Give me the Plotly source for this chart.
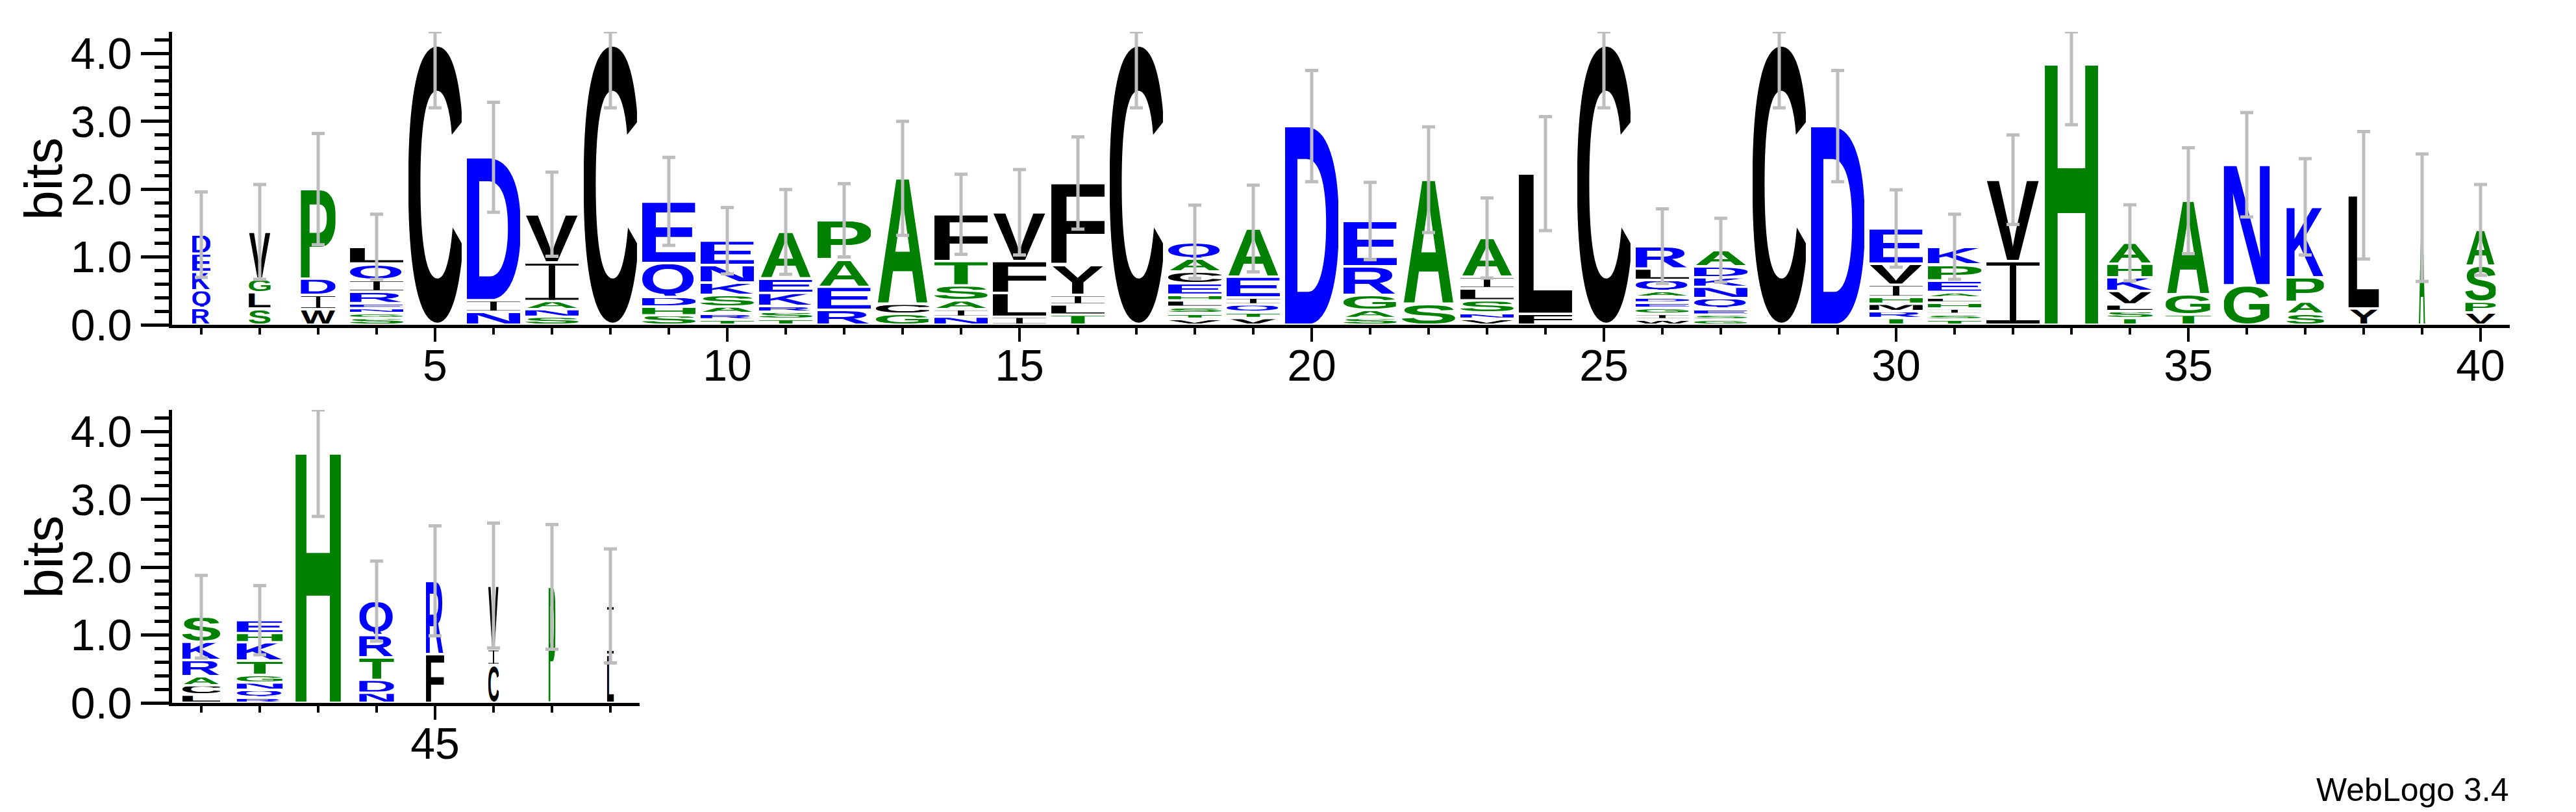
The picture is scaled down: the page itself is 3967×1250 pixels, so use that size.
import base64
import plotly.graph_objects as go

POSITIONS = list(range(1, 49))
# letters of each stack, bottom -> top
LETTERS = [
    "RQKED", "SLGV", "WIDP", "SGNERIQL", "C", "NID", "SNAIV", "C",
    "SHDQE", "TRASKNE", "TSRKEA", "REAP", "GCA", "NIASTF", "ILFV", "TLIYF",
    "C", "VTSLHECAQ", "VTQIEA", "D", "SAGRE", "SA", "VNSLIA", "FL",
    "C", "WIGEDAQLR", "GSEQNKDA", "C", "D", "TRMHIVE", "TSIHLAEPK", "IV",
    "H", "TSLVKHA", "TGA", "GN", "SAPK", "YL", "A", "VPSA",
    "LCARKS", "RQNGTKHE", "H", "NDTRQ", "FR", "CIV", "P", "LI",
]
# letter heights in bits, bottom -> top
HEIGHTS = [
    [0.25, 0.26, 0.27, 0.27, 0.28], [0.24, 0.24, 0.20, 0.69], [0.23, 0.21, 0.24, 1.32],
    [0.10, 0.07, 0.075, 0.075, 0.17, 0.17, 0.245, 0.245], [4.13], [0.19, 0.17, 2.11],
    [0.12, 0.11, 0.12, 0.57, 0.71], [4.13],
    [0.14, 0.13, 0.14, 0.50, 0.91], [0.08, 0.09, 0.10, 0.17, 0.18, 0.26, 0.36],
    [0.09, 0.10, 0.09, 0.19, 0.21, 0.69], [0.22, 0.34, 0.41, 0.57], [0.16, 0.15, 1.85],
    [0.12, 0.11, 0.13, 0.22, 0.36, 0.69], [0.12, 0.35, 0.47, 0.72], [0.15, 0.15, 0.14, 0.45, 1.20],
    [4.13], [0.09, 0.08, 0.095, 0.095, 0.085, 0.17, 0.17, 0.19, 0.25],
    [0.10, 0.09, 0.11, 0.10, 0.31, 0.71], [2.93], [0.10, 0.12, 0.22, 0.42, 0.67],
    [0.31, 1.83], [0.09, 0.09, 0.18, 0.18, 0.17, 0.57], [0.16, 2.07],
    [4.13], [0.08, 0.08, 0.09, 0.08, 0.08, 0.09, 0.16, 0.17, 0.33],
    [0.08, 0.07, 0.09, 0.15, 0.17, 0.14, 0.16, 0.24], [4.13], [2.93],
    [0.10, 0.10, 0.11, 0.10, 0.18, 0.31, 0.52],
    [0.08, 0.08, 0.08, 0.09, 0.075, 0.08, 0.17, 0.235, 0.26], [0.94, 1.20],
    [3.84], [0.10, 0.10, 0.10, 0.20, 0.20, 0.20, 0.31], [0.15, 0.30, 1.38], [0.58, 1.78],
    [0.16, 0.18, 0.36, 1.04], [0.24, 1.67], [1.58], [0.18, 0.16, 0.53, 0.53],
    [0.12, 0.14, 0.13, 0.24, 0.27, 0.37], [0.08, 0.11, 0.11, 0.11, 0.21, 0.275, 0.135, 0.19],
    [3.68], [0.15, 0.19, 0.33, 0.33, 0.50], [0.72, 1.08], [0.56, 0.23, 0.94], [1.71], [0.71, 0.72],
]
# error bar half-lengths (bits)
ERRORS = [
    0.63, 0.70, 0.82, 0.48, 0.93, 0.81, 0.62, 0.93,
    0.65, 0.49, 0.625, 0.54, 0.84, 0.59, 0.63, 0.68,
    0.93, 0.54, 0.64, 0.82, 0.57, 0.78, 0.59, 0.84,
    0.93, 0.55, 0.47, 0.93, 0.82, 0.57, 0.48, 0.66,
    0.89, 0.56, 0.78, 0.77, 0.71, 0.94, 0.94, 0.67,
    0.61, 0.51, 0.93, 0.59, 0.81, 0.92, 0.92, 0.84,
]
# stack width fraction (column occupancy)
OCCUPANCY = [
    0.34, 0.41, 0.65, 1, 1, 1, 1, 1,
    1, 1, 1, 1, 1, 1, 1, 1,
    1, 1, 1, 1, 1, 1, 1, 1,
    1, 1, 1, 1, 1, 1, 1, 1,
    1, 0.85, 0.85, 0.86, 0.70, 0.57, 0.13, 0.57,
    0.71, 0.86, 0.85, 0.65, 0.34, 0.20, 0.13, 0.13,
]
Y_TICKS = [0, 1, 2, 3, 4]
MAX_BITS = 4.32
ROW1_LAST = 40

# ---------------- styling ----------------
W, H = 3967, 1250
FONT = "Liberation Sans, Arial, Helvetica, sans-serif"
COLOR_GROUPS = {"#0000ff": "RKDENQ", "#008000": "SGHTAP", "#000000": "YVMCLFIW"}
LETTER_COLOR = {ch: c for c, chs in COLOR_GROUPS.items() for ch in chs}
ERR_COLOR = "#bdbdbd"
FULL_W = 0.91      # full letter width in column units
GAP = 0.035        # vertical gap between stacked letters (bits)

# approximate ink boxes of Liberation Sans Bold glyphs (2048 em): xmin, xmax, ymin, ymax
ROUND = (-25, 1434)
FLAT = (0, 1409)
GLYPH_BOX = {
    "A": (0, 1479) + FLAT, "C": (90, 1385) + ROUND, "D": (148, 1378) + FLAT,
    "E": (148, 1253) + FLAT, "F": (148, 1150) + FLAT, "G": (92, 1490) + ROUND,
    "H": (148, 1331) + FLAT, "K": (148, 1479) + FLAT, "L": (148, 1175) + FLAT,
    "M": (146, 1561) + FLAT, "N": (148, 1331) + FLAT, "P": (148, 1276) + FLAT,
    "Q": (86, 1545, -115, 1434), "R": (148, 1475) + FLAT, "S": (70, 1280) + ROUND,
    "T": (42, 1209) + FLAT, "V": (0, 1366) + FLAT, "W": (6, 1928) + FLAT,
    "Y": (0, 1366) + FLAT,
}

_cache = {}


def glyph_source(ch):
    if ch in _cache:
        return _cache[ch]
    col = LETTER_COLOR[ch]
    if ch == "I":
        svg = ('<svg xmlns="http://www.w3.org/2000/svg" width="100" height="100" '
               'viewBox="0 0 100 100" preserveAspectRatio="none">'
               f'<rect x="0" y="0" width="100" height="5.5" fill="{col}"/>'
               f'<rect x="44" y="0" width="12" height="100" fill="{col}"/>'
               f'<rect x="0" y="94.5" width="100" height="5.5" fill="{col}"/></svg>')
    else:
        x0, x1, y0, y1 = GLYPH_BOX[ch]
        w, h = x1 - x0, y1 - y0
        svg = (f'<svg xmlns="http://www.w3.org/2000/svg" width="{w}" height="{h}" '
               f'viewBox="0 0 {w} {h}" preserveAspectRatio="none">'
               f'<text x="{-x0}" y="{y1}" font-family="Liberation Sans, Arial, sans-serif" '
               f'font-weight="700" font-size="2048" fill="{col}">{ch}</text></svg>')
    src = "data:image/svg+xml;base64," + base64.b64encode(svg.encode()).decode()
    _cache[ch] = src
    return src


fig = go.Figure()
images = []
for row, (xr, yr) in enumerate([("x", "y"), ("x2", "y2")]):
    xs, ys, plus, minus = [], [], [], []
    for i, pos in enumerate(POSITIONS):
        if (row == 0) != (pos <= ROW1_LAST):
            continue
        wd = FULL_W * OCCUPANCY[i]
        base = 0.0
        for ch, hgt in zip(LETTERS[i], HEIGHTS[i]):
            g = min(GAP, hgt * 0.5)
            images.append(dict(
                source=glyph_source(ch), xref=xr, yref=yr,
                x=pos - wd / 2, y=base + hgt - g / 2, sizex=wd, sizey=hgt - g,
                xanchor="left", yanchor="top", sizing="stretch", layer="below",
            ))
            base += hgt
        xs.append(pos)
        ys.append(base)
        plus.append(min(base + ERRORS[i], MAX_BITS) - base)
        minus.append(base - max(base - ERRORS[i], 0))
    fig.add_trace(go.Scatter(
        x=xs, y=ys, xaxis=xr, yaxis=yr, mode="markers", cliponaxis=False,
        marker=dict(size=1, color="rgba(0,0,0,0)"), hoverinfo="skip", showlegend=False,
        error_y=dict(type="data", symmetric=False, array=plus, arrayminus=minus,
                     color=ERR_COLOR, thickness=5, width=10),
    ))

axis_common = dict(showgrid=False, zeroline=False, showline=True, linecolor="black",
                   linewidth=5, ticks="outside", tickcolor="black", automargin=False,
                   tickfont=dict(family=FONT, size=68, color="black"))
yaxis_common = dict(axis_common, range=[0, MAX_BITS], tickmode="array", tickvals=Y_TICKS,
                    ticktext=[f"{v:.1f}" for v in Y_TICKS], ticklen=43, tickwidth=5,
                    minor=dict(tick0=0, dtick=0.2, ticks="outside", ticklen=22,
                               tickwidth=5, tickcolor="black", showgrid=False))
xaxis_common = dict(axis_common, tickmode="linear", tick0=0, dtick=5, ticklen=21, tickwidth=4,
                    ticklabelstandoff=-22,
                    minor=dict(tick0=0, dtick=1, ticks="outside", ticklen=10,
                               tickwidth=4, tickcolor="black", showgrid=False))

fig.update_layout(
    width=W, height=H, margin=dict(l=0, r=0, t=0, b=0, autoexpand=False),
    paper_bgcolor="white", plot_bgcolor="rgba(0,0,0,0)", showlegend=False,
    images=images,
    xaxis=dict(xaxis_common, domain=[265 / W, 3865 / W], range=[0.5, ROW1_LAST + 0.5], anchor="y"),
    yaxis=dict(yaxis_common, domain=[1 - 500 / H, 1 - 49 / H], anchor="x"),
    xaxis2=dict(xaxis_common, domain=[265 / W, 985 / W], range=[ROW1_LAST + 0.5, 48.5], anchor="y2"),
    yaxis2=dict(yaxis_common, domain=[1 - 1082 / H, 1 - 631 / H], anchor="x2"),
    annotations=[
        dict(text="bits", xref="paper", yref="paper", x=67 / W, y=1 - 275 / H,
             xanchor="center", yanchor="middle", textangle=-90, showarrow=False,
             font=dict(family=FONT, size=82, color="black")),
        dict(text="bits", xref="paper", yref="paper", x=67 / W, y=1 - 857 / H,
             xanchor="center", yanchor="middle", textangle=-90, showarrow=False,
             font=dict(family=FONT, size=82, color="black")),
        dict(text="WebLogo 3.4", xref="paper", yref="paper", x=3866 / W, y=1 - 1216 / H,
             xanchor="right", yanchor="middle", showarrow=False,
             font=dict(family=FONT, size=50, color="black")),
    ],
)

fig.write_html(
    "out.html",
    config={"displayModeBar": False},
    post_script="document.body.style.margin='0';document.body.style.overflow='hidden';",
)
